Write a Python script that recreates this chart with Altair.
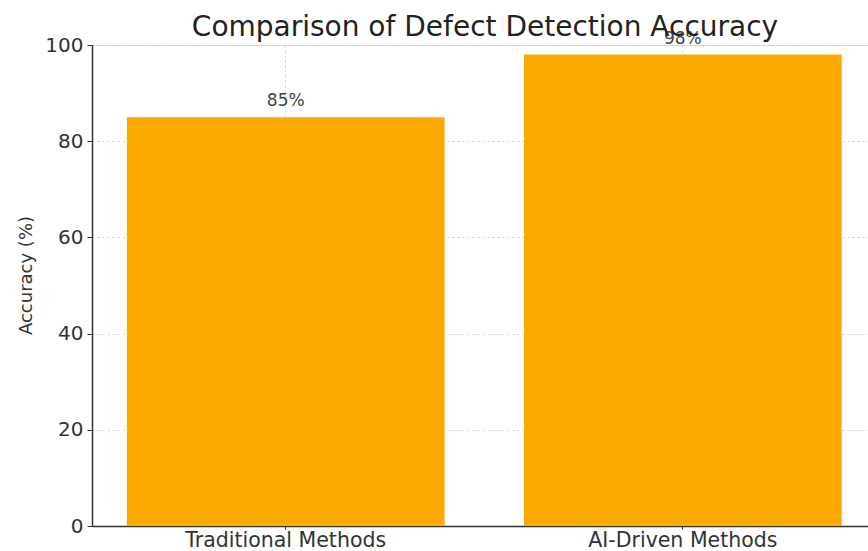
import altair as alt
import pandas as pd

methods = ["Traditional Methods", "AI-Driven Methods"]
accuracy = [85, 98]
labels = ["85%", "98%"]

df = pd.DataFrame({"method": methods, "accuracy": accuracy, "label": labels})

FONT = "DejaVu Sans"

x = alt.X(
    "method:N",
    sort=methods,
    title=None,
    scale=alt.Scale(paddingInner=0.2, paddingOuter=0.077, align=0.57),
    axis=alt.Axis(
        labelAngle=0, labelFontSize=20.5, labelColor="#333333", labelFont=FONT,
        labelPadding=1, labelLimit=0, tickSize=3, tickColor="#333333",
        domainColor="#333333", domainWidth=1.5, grid=True, bandPosition=0.5,
        gridColor="#cccccc", gridDash=[2, 3], gridWidth=1,
    ),
)
y = alt.Y(
    "accuracy:Q",
    title="Accuracy (%)",
    scale=alt.Scale(domain=[0, 100], nice=False),
    axis=alt.Axis(
        values=[0, 20, 40, 60, 80, 100], labelFontSize=20, labelColor="#333333",
        labelFont=FONT, labelPadding=4, tickSize=5, tickColor="#333333",
        domainColor="#333333", domainWidth=1.5, gridColor="#cccccc",
        gridDash=[2, 3], gridWidth=1, titleFont=FONT, titleFontSize=18,
        titleFontWeight="normal", titleColor="#333333", titlePadding=9,
        titleY=230,
    ),
)

bars = alt.Chart(df).mark_bar(color="#FDAA00").encode(x=x, y=y)
text = alt.Chart(df).mark_text(
    baseline="bottom", dy=-7, fontSize=17, font=FONT, color="#444444"
).encode(x=alt.X("method:N", sort=methods), y="accuracy:Q", text="label:N")

chart = (
    alt.layer(bars, text)
    .properties(
        width=776,
        height=481,
        autosize=alt.AutoSizeParams(type="none"),
        padding={"left": 92, "top": 45, "right": 0, "bottom": 25},
        title=alt.TitleParams(
            "Comparison of Defect Detection Accuracy", font=FONT, fontSize=28,
            fontWeight="normal", color="#222222", anchor="middle", offset=-12, dx=5,
        ),
    )
    .configure_view(stroke=None)
    .configure(background="white")
)

chart.save("out.html", embed_options={"renderer": "svg", "actions": False})
